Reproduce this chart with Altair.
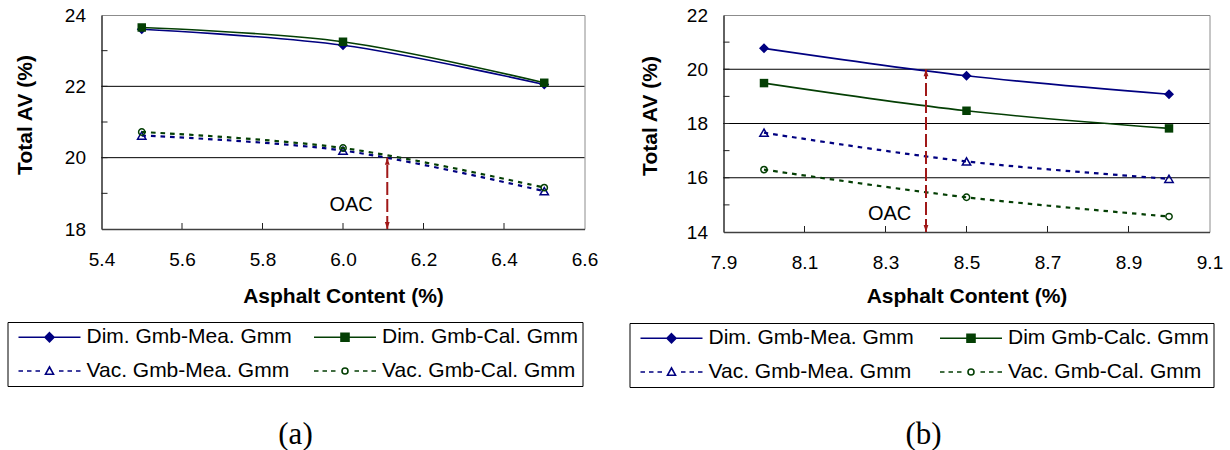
import altair as alt
import pandas as pd

# ---------------- data: panel (a) ----------------
a_ac = [5.5, 6.0, 6.5]
a_dim_mea = [23.60, 23.15, 22.05]
a_dim_cal = [23.65, 23.25, 22.10]
a_vac_mea = [20.62, 20.20, 19.06]
a_vac_cal = [20.72, 20.27, 19.16]
a_names = ["Dim. Gmb-Mea. Gmm", "Dim. Gmb-Cal. Gmm", "Vac. Gmb-Mea. Gmm", "Vac. Gmb-Cal. Gmm"]
a_xticks = [5.4, 5.6, 5.8, 6.0, 6.2, 6.4, 6.6]
a_yticks = [18, 20, 22, 24]
a_grid = [20, 22]
a_minor = [19, 20, 21, 22, 23]
a_oac_x = [6.11]
a_oac_y = [18, 20]
a_oac_label = [6.02, 18.67]

# ---------------- data: panel (b) ----------------
b_ac = [8.0, 8.5, 9.0]
b_dim_mea = [20.77, 19.76, 19.08]
b_dim_cal = [19.49, 18.47, 17.82]
b_vac_mea = [17.66, 16.60, 15.96]
b_vac_cal = [16.30, 15.28, 14.57]
b_names = ["Dim. Gmb-Mea. Gmm", "Dim Gmb-Calc. Gmm", "Vac. Gmb-Mea. Gmm", "Vac. Gmb-Cal. Gmm"]
b_xticks = [7.9, 8.1, 8.3, 8.5, 8.7, 8.9, 9.1]
b_yticks = [14, 16, 18, 20, 22]
b_grid = [16, 18, 20]
b_minor = [15, 16, 17, 18, 19, 20, 21]
b_oac_x = [8.40]
b_oac_y = [14, 20]
b_oac_label = [8.31, 14.67]

# ---------------- styles ----------------
NAVY = "#000080"
GREEN = "#043F04"
RED = "#A01818"
FONT = "Liberation Sans"

DASHES = "M-31,0H-26.5M-22.5,0H-18M-14,0H-9.5M9.5,0H14M18,0H22.5M26.5,0H31"
LEG_SHAPES = [
    "M-31,0H31M0,-4.5L4.5,0L0,4.5L-4.5,0Z",
    "M-31,0H31M-4,-4H4V4H-4Z",
    DASHES + "M0,-4L4,3.2H-4Z",
    DASHES + "M-3,0A3,3 0 1 0 3,0A3,3 0 1 0 -3,0Z",
]
LEG_FILLS = [NAVY, GREEN, "white", "white"]
LEG_STROKES = [NAVY, GREEN, NAVY, GREEN]
ARROW_UP = "M0,0L-1.2,3.5L1.2,3.5Z"
ARROW_DOWN = "M0,0L-1.2,-3.5L1.2,-3.5Z"


def panel(ac, series, names, xdom, xticks, ydom, yticks, grid, minor,
          oac_x, oac_y, oac_lab, W, H, caption, cap_x, leg_x, leg_y, colpad,
          ytitle_x, ytitle_y, xtitle_y):
    rows = []
    for n, vals in zip(names, series):
        for x, y in zip(ac, vals):
            rows.append({"ac": x, "av": y, "s": n})
    df = pd.DataFrame(rows)
    xs = alt.Scale(domain=xdom, nice=False, zero=False)
    ys = alt.Scale(domain=ydom, nice=False, zero=False)

    xaxis = alt.Axis(values=xticks, format=".1f", title="Asphalt Content (%)",
                     grid=False, ticks=False, tickSize=0, labelPadding=21,
                     labelFlush=False, labelOverlap=False, labelFontSize=19,
                     labelColor="black", titleFontSize=21, titleFontWeight="bold",
                     titleColor="black", titleBaseline="middle", titleY=xtitle_y,
                     domainColor="#404040", domainWidth=1.5)
    yaxis = alt.Axis(values=yticks, format="d", title="Total AV (%)",
                     grid=False, ticks=False, tickSize=0, labelPadding=16,
                     labelFlush=False, labelOverlap=False, labelFontSize=19,
                     labelColor="black", titleFontSize=21, titleFontWeight="bold",
                     titleColor="black", titleBaseline="middle", titleX=ytitle_x,
                     titleY=ytitle_y, domainColor="#404040", domainWidth=1.5)

    def X():
        return alt.X("ac:Q", scale=xs, axis=xaxis)

    def Y():
        return alt.Y("av:Q", scale=ys, axis=yaxis)

    layers = []
    # gridlines
    layers.append(alt.Chart(pd.DataFrame({"av": grid})).mark_rule(color="black", strokeWidth=1)
                  .encode(y=Y(), x=alt.value(0), x2=alt.value(W)))
    # inside ticks
    layers.append(alt.Chart(pd.DataFrame({"ac": xticks[1:-1]})).mark_rule(color="#202020", strokeWidth=1)
                  .encode(x=X(), y=alt.value(H - 6), y2=alt.value(H)))
    layers.append(alt.Chart(pd.DataFrame({"av": minor})).mark_rule(color="#202020", strokeWidth=1)
                  .encode(y=Y(), x=alt.value(0), x2=alt.value(6)))

    styles = [
        dict(color=NAVY, dash=None, shape="diamond", filled=True, size=100),
        dict(color=GREEN, dash=None, shape="square", filled=True, size=72),
        dict(color=NAVY, dash=[4.5, 5], shape="triangle-up", filled=False, size=70),
        dict(color=GREEN, dash=[4.5, 5], shape="circle", filled=False, size=40),
    ]
    for n, st in zip(names, styles):
        sub = df[df["s"] == n]
        lkw = dict(color=st["color"], interpolate="catmull-rom",
                   strokeWidth=1.6 if st["dash"] is None else 2.2)
        if st["dash"] is not None:
            lkw["strokeDash"] = st["dash"]
        layers.append(alt.Chart(sub).mark_line(**lkw).encode(x=X(), y=Y()))
        layers.append(alt.Chart(sub).mark_point(shape=st["shape"], filled=st["filled"], size=st["size"],
                                                 color=st["color"], opacity=1, strokeWidth=1.5)
                      .encode(x=X(), y=Y()))

    # OAC arrow
    oac = pd.DataFrame({"ac": oac_x, "av": [oac_y[0]], "av2": [oac_y[1]]})
    layers.append(alt.Chart(oac).mark_rule(color=RED, strokeWidth=2, strokeDash=[13, 4])
                  .encode(x=X(), y=Y(), y2="av2:Q"))
    top = pd.DataFrame({"ac": oac_x, "av": [oac_y[1]]})
    bot = pd.DataFrame({"ac": oac_x, "av": [oac_y[0]]})
    layers.append(alt.Chart(top).mark_point(shape=ARROW_UP, filled=True, size=16, color=RED, opacity=1)
                  .encode(x=X(), y=Y()))
    layers.append(alt.Chart(bot).mark_point(shape=ARROW_DOWN, filled=True, size=16, color=RED, opacity=1)
                  .encode(x=X(), y=Y()))
    lab = pd.DataFrame({"ac": [oac_lab[0]], "av": [oac_lab[1]], "t": ["OAC"]})
    layers.append(alt.Chart(lab).mark_text(fontSize=20, font=FONT, color="black", baseline="middle")
                  .encode(x=X(), y=Y(), text="t:N"))

    # legend (custom combined line+marker symbols)
    leg = alt.Legend(title=None, orient="none", legendX=leg_x, legendY=leg_y, columns=2,
                     direction="horizontal",
                     columnPadding=colpad, rowPadding=12, padding=4.5, strokeColor="black",
                     fillColor="white", symbolSize=4, symbolOffset=27, labelOffset=26.5,
                     labelFontSize=21, labelFont=FONT, labelColor="black", labelLimit=600,
                     symbolStrokeWidth=1.6, gridAlign="each")
    layers.append(alt.Chart(df).transform_filter("false")
                  .mark_point(filled=True, size=4, opacity=1, strokeWidth=1.6)
                  .encode(shape=alt.Shape("s:N", scale=alt.Scale(domain=names, range=LEG_SHAPES), legend=leg),
                          fill=alt.Fill("s:N", scale=alt.Scale(domain=names, range=LEG_FILLS), legend=leg),
                          stroke=alt.Stroke("s:N", scale=alt.Scale(domain=names, range=LEG_STROKES), legend=leg)))

    # caption
    layers.append(alt.Chart(pd.DataFrame({"t": [caption]}))
                  .mark_text(font="Liberation Serif", fontSize=31, color="black", baseline="middle")
                  .encode(text="t:N", x=alt.value(cap_x), y=alt.value(420)))

    return alt.layer(*layers).properties(width=W, height=H)


left = panel(a_ac, [a_dim_mea, a_dim_cal, a_vac_mea, a_vac_cal], a_names,
             [5.4, 6.6], a_xticks, [18, 24], a_yticks, a_grid, a_minor,
             a_oac_x, a_oac_y, a_oac_label, 483, 214, "(a)", 194, -94, 307, 15.5,
             -76, 99.5, 67)
right = panel(b_ac, [b_dim_mea, b_dim_cal, b_vac_mea, b_vac_cal], b_names,
              [7.9, 9.1], b_xticks, [14, 22], b_yticks, b_grid, b_minor,
              b_oac_x, b_oac_y, b_oac_label, 486, 217, "(b)", 200, -94, 308, 19.5,
              -73, 100.5, 64)

chart = (alt.hconcat(left, right, spacing=139, bounds="flush")
         .resolve_scale(x="independent", y="independent", shape="independent",
                        fill="independent", stroke="independent")
         .resolve_legend(shape="independent", fill="independent", stroke="independent")
         .configure(font=FONT, padding={"left": 6.5, "top": 5, "right": 5, "bottom": 5})
         .configure_view(stroke="#8c8c8c", strokeWidth=1)
         .configure_axis(labelFont=FONT, titleFont=FONT))

chart.save("out.html", embed_options={"renderer": "svg", "actions": False})
